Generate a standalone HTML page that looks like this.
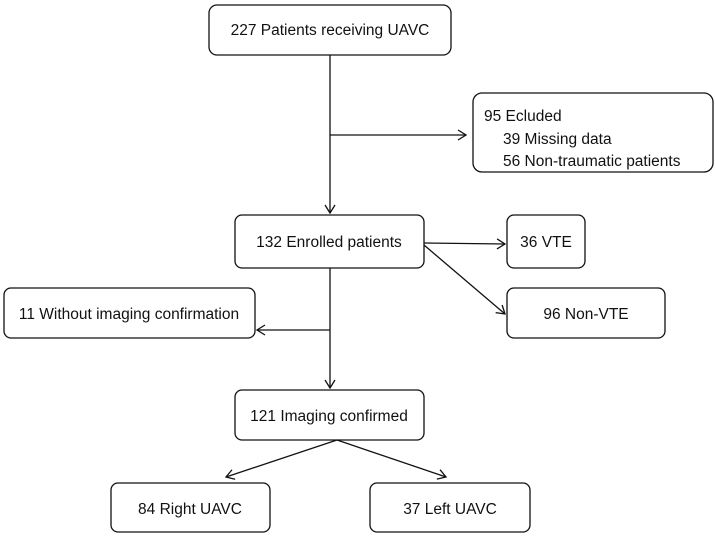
<!DOCTYPE html>
<html><head><style>
html,body{margin:0;padding:0;background:#fff;}
svg{display:block;}
text{font-family:"Liberation Sans",Arial,sans-serif;font-size:15.5px;fill:#111;}
rect{fill:#fff;stroke:#111;stroke-width:1.3;}
line,polyline{stroke:#111;stroke-width:1.3;fill:none;}
</style></head><body>
<svg width="715" height="537" viewBox="0 0 715 537">
<defs><marker id="a" markerWidth="12" markerHeight="12" refX="10" refY="6" orient="auto" markerUnits="userSpaceOnUse"><polyline points="2,1 10,6 2,11" style="stroke:#111;stroke-width:1.3;fill:none"/></marker></defs>
<rect x="209" y="5" width="242" height="50" rx="8"/>
<text x="330" y="35" text-anchor="middle">227 Patients receiving UAVC</text>
<line x1="330" y1="55" x2="330" y2="213" marker-end="url(#a)"/>
<line x1="330" y1="135" x2="466" y2="135" marker-end="url(#a)"/>
<rect x="473" y="93" width="240" height="79" rx="9"/>
<text x="484" y="121">95 Ecluded</text>
<text x="503" y="144">39 Missing data</text>
<text x="503" y="166">56 Non-traumatic patients</text>
<rect x="235" y="215" width="189" height="53" rx="7"/>
<text x="329" y="247" text-anchor="middle">132 Enrolled patients</text>
<line x1="424" y1="243" x2="505" y2="244" marker-end="url(#a)"/>
<line x1="424" y1="245" x2="505" y2="314" marker-end="url(#a)"/>
<rect x="507" y="215" width="78" height="53" rx="7"/>
<text x="546" y="247" text-anchor="middle">36 VTE</text>
<rect x="507" y="288" width="158" height="50" rx="7"/>
<text x="586" y="319" text-anchor="middle">96 Non-VTE</text>
<line x1="330" y1="268" x2="330" y2="388" marker-end="url(#a)"/>
<line x1="330" y1="330" x2="257" y2="330" marker-end="url(#a)"/>
<rect x="4" y="288" width="251" height="50" rx="7"/>
<text x="129" y="319" text-anchor="middle">11 Without imaging confirmation</text>
<rect x="235" y="390" width="189" height="50" rx="7"/>
<text x="329" y="421" text-anchor="middle">121 Imaging confirmed</text>
<line x1="337" y1="440" x2="226" y2="477" marker-end="url(#a)"/>
<line x1="337" y1="440" x2="446" y2="477" marker-end="url(#a)"/>
<rect x="111" y="483" width="159" height="49" rx="7"/>
<text x="190" y="514" text-anchor="middle">84 Right UAVC</text>
<rect x="370" y="483" width="160" height="49" rx="7"/>
<text x="450" y="514" text-anchor="middle">37 Left UAVC</text>
</svg>
</body></html>
